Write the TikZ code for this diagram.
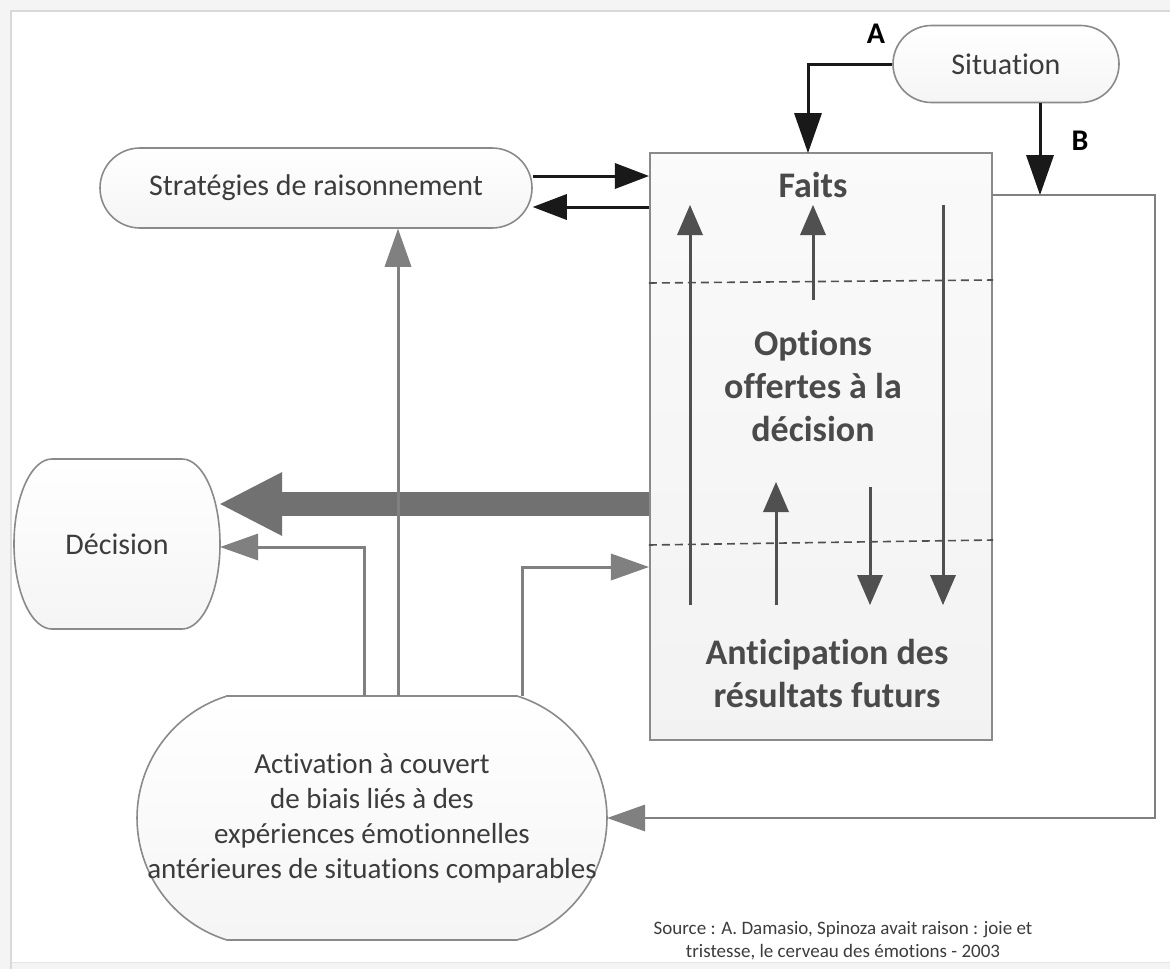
\documentclass[tikz,border=0pt]{standalone}
\usepackage{fontspec}
\setmainfont[Ligatures=NoCommon]{Carlito}
\usetikzlibrary{arrows.meta,shapes.misc}
\definecolor{txt}{HTML}{3C3C3C}
\definecolor{btxt}{HTML}{4A4A4A}
\definecolor{conn}{HTML}{808080}
\definecolor{innerc}{HTML}{505050}
\definecolor{bigc}{HTML}{717171}
\definecolor{edgec}{HTML}{8A8A8A}
\begin{document}
\begin{tikzpicture}[x=1pt,y=-1pt,
  every node/.style={font=\fontsize{30}{35}\selectfont, text=txt},
  stadium/.style={rounded rectangle, draw=edgec, line width=1.6, top color=white, bottom color=gray!8, inner sep=0pt},
  shapeline/.style={draw=edgec, line width=1.6, top color=white, bottom color=gray!8},
  boldtxt/.style={font=\bfseries\fontsize{36}{43}\selectfont, text=btxt, align=center},
  blk/.style={draw=black!90, line width=3, -{Triangle[length=40pt,width=28pt,line width=0pt]}},
  blks/.style={draw=black!90, line width=3, -{Triangle[length=34pt,width=26pt,line width=0pt]}},
  gconn/.style={draw=conn, line width=3, -{Triangle[length=38pt,width=27pt,line width=0pt]}},
  bigarrow/.style={draw=bigc, line width=24, -{Triangle[length=62pt,width=64pt,line width=0pt]}},
  inarrow/.style={draw=innerc, line width=3, -{Triangle[length=30pt,width=26pt,line width=0pt]}},
  sep/.style={draw=innerc, line width=1.6, dash pattern=on 8pt off 5pt}
]
\useasboundingbox (0,0) rectangle (1170,969);
% frame
\fill[gray!9] (0,0) rectangle (1170,969);
\fill[white] (12,12) rectangle (1170,962);
\draw[gray!30, line width=1.2] (11,969) -- (11,11) -- (1170,11);
\draw[gray!20, line width=1] (12,962) -- (1170,962);

% main box
\node[draw=edgec, line width=2.2, top color=gray!4, bottom color=gray!10,
      minimum width=342, minimum height=587, inner sep=0pt] (box) at (821,446.5) {};
\draw[sep] (box.west |- 0,283) -- (box.east |- 0,280);
\draw[sep] (box.west |- 0,545) -- (box.east |- 0,540);
\node[boldtxt] (faits) at (813,185) {Faits};
\node[boldtxt] (options) at (813,386) {Options\\offertes à la\\décision};
\node[boldtxt] (antic) at (827,673) {Anticipation des\\résultats futurs};

% inner arrows
\draw[inarrow] (690,605) -- (690,205);
\draw[inarrow] (813,300) -- (813,205);
\draw[inarrow] (943,205) -- (943,605);
\draw[inarrow] (776,605) -- (776,482);
\draw[inarrow] (870,487) -- (870,605);

% other nodes
\node[stadium, minimum width=226, minimum height=77] (sit) at (1006,64) {Situation};
\node[stadium, minimum width=432, minimum height=80] (strat) at (316,188) {Stratégies de raisonnement};

% Decision shape
\path[shapeline] (52,459) -- (182,459) arc[start angle=-90, end angle=90, x radius=38, y radius=85]
   -- (52,629) arc[start angle=90, end angle=270, x radius=38, y radius=85] -- cycle;
\node[rectangle, minimum width=206, minimum height=170, inner sep=0pt] (dec) at (117,544) {Décision};

% Activation shape
\path[shapeline] (227,696) -- (517,696) arc[start angle=-72.8, end angle=72.8, radius=127.7]
   -- (227,940) arc[start angle=107.2, end angle=252.8, radius=127.7] -- cycle;
\node[rectangle, minimum width=470, minimum height=244, inner sep=0pt, align=center,
      font=\fontsize{29}{35}\selectfont] (act) at (372,818)
  {Activation à couvert\\de biais liés à des\\expériences émotionnelles\\antérieures de situations comparables};

% labels
\node[font=\bfseries\fontsize{30}{36}\selectfont, text=black] (lblA) at (876,34) {A};
\node[font=\bfseries\fontsize{30}{36}\selectfont, text=black] (lblB) at (1080,141) {B};

% coordinates
\coordinate (aEnd) at (808,153);
\coordinate (bEnd) at (1040,195);
\coordinate (fbStart) at (992,195);
\coordinate (fbC1) at (1155,195);
\coordinate (fbC2) at (1155,818);
\coordinate (y176) at (0,176);
\coordinate (y207) at (0,207);
\coordinate (y504) at (0,504);
\coordinate (y547) at (0,547);
\coordinate (y567) at (0,567);
\coordinate (x364) at (364,0);
\coordinate (x398) at (398,0);
\coordinate (x522) at (522,0);

% connectors
\draw[blk] (sit.west) -| (aEnd);
\draw[blk] (sit.south -| bEnd) -- (bEnd);
\draw[gconn, line width=2.6] (fbStart) -- (fbC1) -- (fbC2) -- (act.east);
\draw[blks] (strat.east |- y176) -- (box.west |- y176);
\draw[blks] (box.west |- y207) -- (strat.east |- y207);
\draw[bigarrow] (box.west |- y504) -- (dec.east |- y504);
\draw[gconn] (x364 |- act.north) |- (dec.east |- y547);
\draw[gconn] (x398 |- act.north) -- (x398 |- strat.south);
\draw[gconn] (x522 |- act.north) |- (box.west |- y567);

% source
\node[font=\fontsize{19}{23}\selectfont, align=center] (src) at (843,941)
  {Source : A. Damasio, Spinoza avait raison : joie et\\tristesse, le cerveau des émotions - 2003};
\end{tikzpicture}
\end{document}
